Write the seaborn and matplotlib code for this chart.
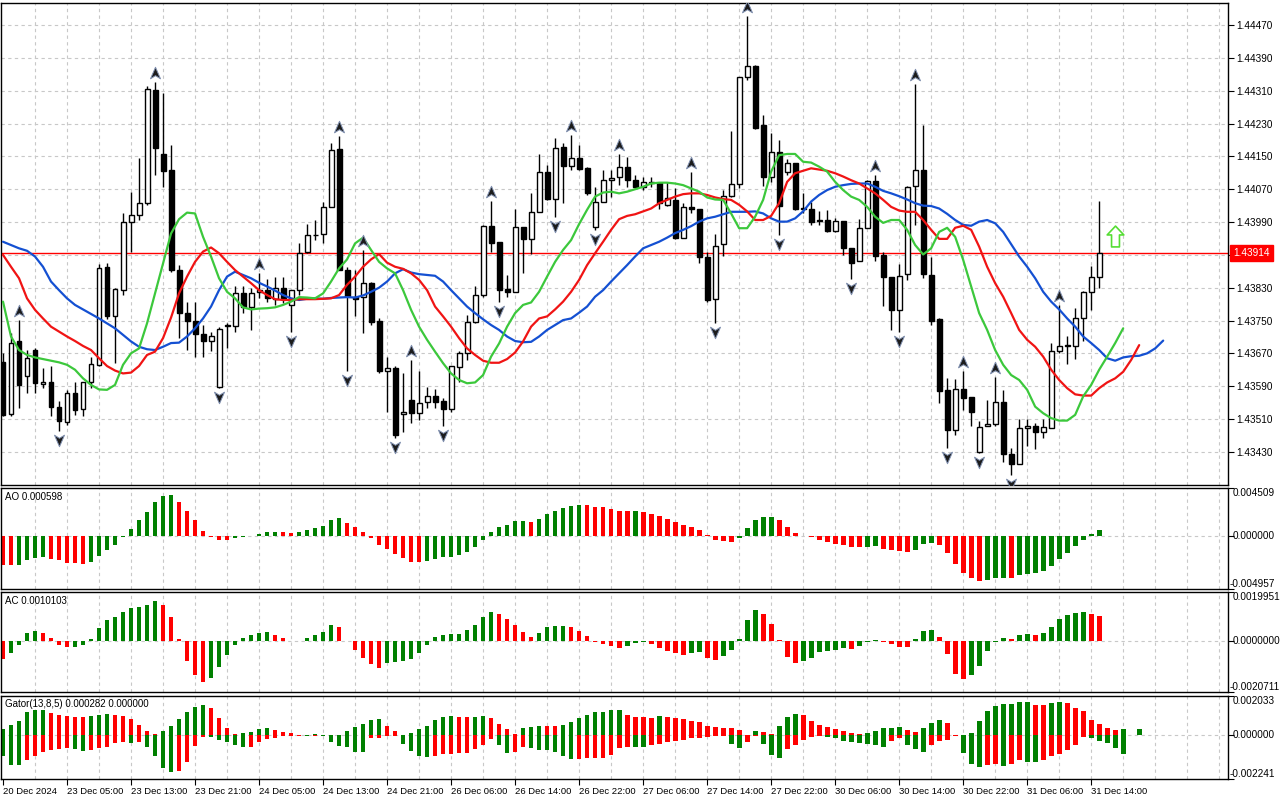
import numpy as np
import pandas as pd
import matplotlib
matplotlib.use("Agg")
import matplotlib.pyplot as plt
from matplotlib.path import Path
from matplotlib import transforms
import seaborn as sns

# H1 candles, 20 Dec 2024 .. 31 Dec 2024 14:00
opens = [1.43650, 1.43522, 1.43699, 1.43614, 1.43679, 1.43596, 1.43600, 1.43540, 1.43502, 1.43573,
         1.43534, 1.43599, 1.43641, 1.43880, 1.43762, 1.43825, 1.43990, 1.44007, 1.44037, 1.44312,
         1.44156, 1.44117, 1.43873, 1.43768, 1.43748, 1.43718, 1.43699, 1.43588, 1.43736, 1.43736,
         1.43817, 1.43784, 1.43819, 1.43825, 1.43802, 1.43830, 1.43788, 1.43825, 1.43916, 1.43959,
         1.43960, 1.44027, 1.44167, 1.43873, 1.43808, 1.43808, 1.43841, 1.43750, 1.43628, 1.43634,
         1.43522, 1.43556, 1.43524, 1.43552, 1.43566, 1.43554, 1.43534, 1.43636, 1.43670, 1.43747,
         1.43811, 1.43980, 1.43941, 1.43827, 1.43820, 1.43977, 1.43948, 1.44015, 1.44111, 1.44045,
         1.44174, 1.44127, 1.44145, 1.44121, 1.43977, 1.44040, 1.44092, 1.44099, 1.44123, 1.44092,
         1.44076, 1.44088, 1.44084, 1.44032, 1.44044, 1.43950, 1.44026, 1.44023, 1.43904, 1.43802,
         1.43936, 1.44054, 1.44082, 1.44344, 1.44370, 1.44226, 1.44101, 1.44161, 1.44113, 1.44135,
         1.44025, 1.44022, 1.43995, 1.43995, 1.43967, 1.43993, 1.43926, 1.43894, 1.43976, 1.44090,
         1.43910, 1.43857, 1.43776, 1.43863, 1.44078, 1.44118, 1.43861, 1.43754, 1.43581, 1.43484,
         1.43582, 1.43563, 1.43429, 1.43492, 1.43497, 1.43552, 1.43424, 1.43400, 1.43488, 1.43494,
         1.43478, 1.43488, 1.43676, 1.43689, 1.43689, 1.43755, 1.43819, 1.43855]
highs = [1.43670, 1.43719, 1.43752, 1.43679, 1.43683, 1.43634, 1.43638, 1.43553, 1.43580, 1.43599,
         1.43601, 1.43660, 1.43887, 1.43890, 1.43829, 1.44011, 1.44063, 1.44147, 1.44322, 1.44331,
         1.44304, 1.44178, 1.43886, 1.43795, 1.43795, 1.43740, 1.43723, 1.43733, 1.43745, 1.43833,
         1.43833, 1.43829, 1.43865, 1.43851, 1.43857, 1.43856, 1.43825, 1.43938, 1.43985, 1.43995,
         1.44040, 1.44182, 1.44200, 1.43881, 1.43873, 1.43922, 1.43843, 1.43755, 1.43662, 1.43638,
         1.43621, 1.43654, 1.43626, 1.43587, 1.43582, 1.43561, 1.43638, 1.43675, 1.43764, 1.43835,
         1.43983, 1.44042, 1.43941, 1.43861, 1.44023, 1.43979, 1.44060, 1.44157, 1.44129, 1.44194,
         1.44182, 1.44202, 1.44178, 1.44125, 1.44076, 1.44117, 1.44117, 1.44156, 1.44149, 1.44105,
         1.44101, 1.44101, 1.44088, 1.44088, 1.44072, 1.44037, 1.44113, 1.44023, 1.43918, 1.43961,
         1.44068, 1.44213, 1.44343, 1.44492, 1.44373, 1.44251, 1.44208, 1.44190, 1.44143, 1.44135,
         1.44062, 1.44040, 1.44017, 1.44019, 1.43999, 1.43993, 1.43926, 1.43997, 1.44092, 1.44105,
         1.43918, 1.43857, 1.43888, 1.44078, 1.44326, 1.44226, 1.43906, 1.43755, 1.43609, 1.43607,
         1.43628, 1.43563, 1.43506, 1.43556, 1.43613, 1.43581, 1.43439, 1.43510, 1.43510, 1.43500,
         1.43510, 1.43695, 1.43788, 1.43713, 1.43780, 1.43822, 1.43883, 1.44041]
lows = [1.43516, 1.43516, 1.43536, 1.43573, 1.43573, 1.43585, 1.43516, 1.43480, 1.43496, 1.43520,
        1.43516, 1.43585, 1.43638, 1.43753, 1.43646, 1.43813, 1.43916, 1.43995, 1.44032, 1.44105,
        1.44076, 1.43869, 1.43707, 1.43679, 1.43662, 1.43661, 1.43675, 1.43585, 1.43683, 1.43721,
        1.43768, 1.43726, 1.43804, 1.43796, 1.43788, 1.43792, 1.43723, 1.43813, 1.43914, 1.43946,
        1.43940, 1.44026, 1.43872, 1.43626, 1.43760, 1.43719, 1.43739, 1.43621, 1.43528, 1.43463,
        1.43479, 1.43500, 1.43508, 1.43536, 1.43536, 1.43492, 1.43528, 1.43601, 1.43654, 1.43743,
        1.43808, 1.43918, 1.43796, 1.43808, 1.43820, 1.43867, 1.43912, 1.44015, 1.44044, 1.44003,
        1.44036, 1.44117, 1.44117, 1.44056, 1.43971, 1.44038, 1.44052, 1.44080, 1.44076, 1.44072,
        1.44068, 1.44076, 1.44023, 1.44028, 1.43948, 1.43950, 1.44011, 1.43891, 1.43796, 1.43743,
        1.43907, 1.44052, 1.44072, 1.44336, 1.44218, 1.44078, 1.44088, 1.43958, 1.44105, 1.44019,
        1.44011, 1.43983, 1.43983, 1.43965, 1.43965, 1.43910, 1.43850, 1.43894, 1.43976, 1.43896,
        1.43785, 1.43727, 1.43721, 1.43849, 1.43983, 1.43853, 1.43738, 1.43548, 1.43439, 1.43471,
        1.43532, 1.43492, 1.43426, 1.43492, 1.43494, 1.43406, 1.43374, 1.43400, 1.43443, 1.43436,
        1.43463, 1.43488, 1.43672, 1.43643, 1.43656, 1.43699, 1.43776, 1.43830]
closes = [1.43520, 1.43696, 1.43593, 1.43658, 1.43597, 1.43601, 1.43538, 1.43504, 1.43573, 1.43532,
          1.43599, 1.43644, 1.43878, 1.43761, 1.43827, 1.43990, 1.44007, 1.44036, 1.44314, 1.44170,
          1.44115, 1.43872, 1.43768, 1.43748, 1.43717, 1.43699, 1.43713, 1.43730, 1.43738, 1.43817,
          1.43784, 1.43817, 1.43825, 1.43804, 1.43830, 1.43804, 1.43825, 1.43914, 1.43958, 1.43958,
          1.44026, 1.44166, 1.43873, 1.43810, 1.43803, 1.43841, 1.43747, 1.43626, 1.43634, 1.43471,
          1.43527, 1.43524, 1.43550, 1.43566, 1.43552, 1.43534, 1.43638, 1.43670, 1.43746, 1.43811,
          1.43980, 1.43940, 1.43824, 1.43820, 1.43977, 1.43948, 1.44015, 1.44111, 1.44046, 1.44170,
          1.44127, 1.44145, 1.44119, 1.44060, 1.44038, 1.44092, 1.44098, 1.44123, 1.44092, 1.44075,
          1.44088, 1.44084, 1.44036, 1.44048, 1.43950, 1.44026, 1.44023, 1.43904, 1.43800, 1.43932,
          1.44054, 1.44082, 1.44343, 1.44371, 1.44220, 1.44101, 1.44161, 1.44030, 1.44135, 1.44022,
          1.44023, 1.43991, 1.43993, 1.43967, 1.43993, 1.43926, 1.43891, 1.43976, 1.44090, 1.43907,
          1.43855, 1.43776, 1.43859, 1.44075, 1.44117, 1.43863, 1.43750, 1.43579, 1.43484, 1.43582,
          1.43560, 1.43526, 1.43490, 1.43497, 1.43552, 1.43424, 1.43400, 1.43488, 1.43494, 1.43478,
          1.43490, 1.43676, 1.43689, 1.43690, 1.43755, 1.43819, 1.43855, 1.43914]

# Alligator lines (already shifted: jaw +8, teeth +5, lips +3)
jaw = [1.43942, 1.43934, 1.43926, 1.43920, 1.43906, 1.43881, 1.43845, 1.43824, 1.43804, 1.43788,
       1.43777, 1.43766, 1.43755, 1.43743, 1.43731, 1.43715, 1.43699, 1.43686, 1.43680, 1.43678,
       1.43686, 1.43695, 1.43696, 1.43711, 1.43731, 1.43755, 1.43784, 1.43824, 1.43857, 1.43869,
       1.43861, 1.43853, 1.43842, 1.43833, 1.43823, 1.43812, 1.43804, 1.43800,
       1.43803, 1.43804, 1.43803, 1.43805, 1.43806, 1.43807, 1.43806, 1.43811, 1.43820, 1.43830,
       1.43845, 1.43865, 1.43875, 1.43867, 1.43863, 1.43861, 1.43859, 1.43845, 1.43824, 1.43804,
       1.43784, 1.43768, 1.43753, 1.43739, 1.43727, 1.43711, 1.43700, 1.43697, 1.43698, 1.43711,
       1.43727, 1.43739, 1.43751, 1.43755, 1.43769, 1.43784,
       1.43808, 1.43824, 1.43845, 1.43865, 1.43885, 1.43906, 1.43926, 1.43934, 1.43942, 1.43952,
       1.43963, 1.43971, 1.43980, 1.43991, 1.43999, 1.44003, 1.44009, 1.44015, 1.44015, 1.44015,
       1.44016, 1.44011, 1.43999, 1.43991, 1.43991, 1.43999, 1.44016, 1.44040, 1.44056, 1.44068,
       1.44076, 1.44080, 1.44083, 1.44084, 1.44084, 1.44076,
       1.44066, 1.44060, 1.44053, 1.44045, 1.44036, 1.44030, 1.44029, 1.44023, 1.44010, 1.43995,
       1.43983, 1.43981, 1.43991, 1.43995, 1.43987, 1.43966, 1.43936, 1.43906, 1.43881, 1.43853,
       1.43820, 1.43796, 1.43777, 1.43755, 1.43735, 1.43711, 1.43695, 1.43678, 1.43658, 1.43652,
       1.43660, 1.43663, 1.43664, 1.43670, 1.43682, 1.43701]
teeth = [1.43910, 1.43881, 1.43853, 1.43804, 1.43776, 1.43755, 1.43735, 1.43723, 1.43711, 1.43700,
         1.43688, 1.43678, 1.43658, 1.43639, 1.43628, 1.43621, 1.43623, 1.43639, 1.43666, 1.43674,
         1.43707, 1.43757, 1.43816, 1.43857, 1.43893, 1.43918, 1.43928, 1.43914, 1.43893, 1.43873,
         1.43857, 1.43841, 1.43824, 1.43812, 1.43802, 1.43800, 1.43800, 1.43802,
         1.43802, 1.43802, 1.43803, 1.43804, 1.43812, 1.43837, 1.43857, 1.43881, 1.43899, 1.43912,
         1.43891, 1.43881, 1.43876, 1.43865, 1.43849, 1.43824, 1.43784, 1.43760, 1.43735, 1.43707,
         1.43682, 1.43666, 1.43652, 1.43647, 1.43647, 1.43656, 1.43672, 1.43699, 1.43735, 1.43755,
         1.43760, 1.43777, 1.43796, 1.43820, 1.43849, 1.43885,
         1.43914, 1.43942, 1.43971, 1.43997, 1.44005, 1.44009, 1.44016, 1.44023, 1.44036, 1.44044,
         1.44052, 1.44058, 1.44060, 1.44060, 1.44056, 1.44050, 1.44046, 1.44044, 1.44032, 1.44016,
         1.43995, 1.43995, 1.44005, 1.44036, 1.44088, 1.44109, 1.44115, 1.44121, 1.44118, 1.44115,
         1.44109, 1.44101, 1.44092, 1.44084, 1.44072, 1.44060,
         1.44044, 1.44027, 1.44018, 1.44015, 1.44015, 1.43995, 1.43971, 1.43949, 1.43949, 1.43976,
         1.43981, 1.43971, 1.43930, 1.43881, 1.43841, 1.43808, 1.43768, 1.43727, 1.43703, 1.43686,
         1.43662, 1.43630, 1.43605, 1.43585, 1.43570, 1.43567, 1.43567, 1.43585, 1.43599, 1.43609,
         1.43625, 1.43654, 1.43690]
lips = [1.43796, 1.43711, 1.43678, 1.43666, 1.43660, 1.43656, 1.43652, 1.43648, 1.43642, 1.43630,
        1.43609, 1.43593, 1.43582, 1.43581, 1.43593, 1.43642, 1.43670, 1.43682, 1.43743, 1.43816,
        1.43889, 1.43962, 1.43997, 1.44013, 1.44011, 1.43954, 1.43906, 1.43853, 1.43820, 1.43804,
        1.43782, 1.43777, 1.43779, 1.43780, 1.43782, 1.43788, 1.43796, 1.43807,
        1.43806, 1.43804, 1.43816, 1.43845, 1.43877, 1.43899, 1.43938, 1.43952, 1.43922, 1.43893,
        1.43877, 1.43865, 1.43824, 1.43776, 1.43735, 1.43703, 1.43674, 1.43646, 1.43621, 1.43605,
        1.43597, 1.43599, 1.43617, 1.43662, 1.43694, 1.43735, 1.43768, 1.43788, 1.43794, 1.43820,
        1.43857, 1.43893, 1.43922, 1.43946, 1.43985, 1.44020,
        1.44052, 1.44062, 1.44064, 1.44060, 1.44064, 1.44070, 1.44076, 1.44084, 1.44086, 1.44086,
        1.44084, 1.44080, 1.44072, 1.44064, 1.44050, 1.44045, 1.44044, 1.44011, 1.43975, 1.43975,
        1.44003, 1.44044, 1.44113, 1.44153, 1.44156, 1.44156, 1.44137, 1.44135, 1.44125, 1.44113,
        1.44088, 1.44068, 1.44052, 1.44044, 1.44027, 1.44003,
        1.43988, 1.43995, 1.43995, 1.43971, 1.43934, 1.43911, 1.43926, 1.43966, 1.43976, 1.43954,
        1.43898, 1.43833, 1.43768, 1.43727, 1.43678, 1.43642, 1.43617, 1.43605, 1.43581, 1.43540,
        1.43524, 1.43512, 1.43506, 1.43506, 1.43520, 1.43565, 1.43593, 1.43630, 1.43662, 1.43695,
        1.43731]

fractal_up = [2, 19, 32, 42, 45, 51, 61, 71, 77, 86, 93, 109, 114, 120, 124, 132]
fractal_down = [7, 27, 36, 43, 49, 55, 62, 69, 74, 89, 97, 106, 112, 118, 122, 126]

ao = [-0.00268, -0.00271, -0.00268, -0.00221, -0.00202, -0.00200, -0.00214, -0.00227, -0.00249, -0.00250,
      -0.00258, -0.00239, -0.00183, -0.00126, -0.00079, -0.00006, 0.00069, 0.00148, 0.00224, 0.00318,
      0.00372, 0.00381, 0.00324, 0.00239, 0.00148, 0.00050, -0.00006, -0.00032, -0.00033, -0.00022,
      -0.00013, -0.00003, 0.00022, 0.00041, 0.00042, 0.00038, 0.00032, 0.00035, 0.00054, 0.00072,
      0.00091, 0.00148, 0.00167, 0.00120, 0.00082, 0.00035, -0.00022, -0.00088, -0.00120, -0.00164,
      -0.00202, -0.00243, -0.00244, -0.00230, -0.00211, -0.00198, -0.00192, -0.00176, -0.00148, -0.00101,
      -0.00032, 0.00041, 0.00082, 0.00107, 0.00139, 0.00140, 0.00129, 0.00164, 0.00211, 0.00239,
      0.00265, 0.00284, 0.00293, 0.00291, 0.00274, 0.00271, 0.00255, 0.00236, 0.00235, 0.00236,
      0.00224, 0.00211, 0.00189, 0.00164, 0.00135, 0.00101, 0.00085, 0.00057, 0.00006, -0.00038,
      -0.00047, -0.00054, -0.00019, 0.00076, 0.00151, 0.00180, 0.00181, 0.00151, 0.00085, 0.00025,
      0.00003, -0.00009, -0.00035, -0.00057, -0.00072, -0.00088, -0.00104, -0.00106, -0.00101, -0.00095,
      -0.00117, -0.00129, -0.00135, -0.00151, -0.00126, -0.00072, -0.00066, -0.00085, -0.00158, -0.00261,
      -0.00350, -0.00397, -0.00422, -0.00413, -0.00394, -0.00392, -0.00394, -0.00365, -0.00359, -0.00350,
      -0.00331, -0.00280, -0.00211, -0.00158, -0.00091, -0.00032, 0.00019, 0.00060]

ac = [-0.00074, -0.00047, -0.00015, 0.00033, 0.00040, 0.00033, 0.00012, -0.00015, -0.00024, -0.00023,
      -0.00015, 0.00008, 0.00052, 0.00084, 0.00096, 0.00120, 0.00136, 0.00140, 0.00148, 0.00164,
      0.00148, 0.00096, 0.00008, -0.00082, -0.00138, -0.00168, -0.00150, -0.00106, -0.00055, -0.00015,
      0.00012, 0.00024, 0.00033, 0.00036, 0.00024, 0.00012, 0.00001, -0.00001, 0.00012, 0.00024,
      0.00036, 0.00064, 0.00056, -0.00001, -0.00036, -0.00068, -0.00092, -0.00108, -0.00088, -0.00086,
      -0.00080, -0.00072, -0.00047, -0.00015, 0.00016, 0.00024, 0.00027, 0.00028, 0.00044, 0.00064,
      0.00096, 0.00120, 0.00112, 0.00088, 0.00064, 0.00036, 0.00016, 0.00033, 0.00056, 0.00060,
      0.00063, 0.00059, 0.00039, 0.00019, -0.00003, -0.00011, -0.00019, -0.00027, -0.00019, -0.00008,
      -0.00003, -0.00011, -0.00027, -0.00039, -0.00047, -0.00055, -0.00047, -0.00045, -0.00067, -0.00076,
      -0.00060, -0.00035, 0.00007, 0.00086, 0.00126, 0.00110, 0.00068, 0.00003, -0.00064, -0.00088,
      -0.00080, -0.00068, -0.00043, -0.00039, -0.00036, -0.00029, -0.00031, -0.00019, -0.00003, 0.00003,
      -0.00003, -0.00011, -0.00023, -0.00024, 0.00007, 0.00039, 0.00044, 0.00015, -0.00051, -0.00132,
      -0.00156, -0.00140, -0.00100, -0.00041, -0.00003, 0.00011, 0.00009, 0.00023, 0.00027, 0.00023,
      0.00031, 0.00059, 0.00090, 0.00106, 0.00114, 0.00118, 0.00110, 0.00101]

gator_up = [0.00033, 0.00053, 0.00074, 0.00120, 0.00131, 0.00132, 0.00115, 0.00105, 0.00100, 0.00095,
            0.00093, 0.00100, 0.00105, 0.00110, 0.00105, 0.00100, 0.00084, 0.00053, 0.00022, 0.00007,
            0.00022, 0.00048, 0.00084, 0.00120, 0.00146, 0.00157, 0.00141, 0.00089, 0.00038, 0.00007,
            0.00012, 0.00017, 0.00033, 0.00038, 0.00028, 0.00017, 0.00012, 0.00003, 0.00005, 0.00007,
            0.00005, 0.00002, 0.00001, 0.00022, 0.00043, 0.00058, 0.00079, 0.00084, 0.00048, 0.00022,
            0.00003, 0.00014, 0.00034, 0.00048, 0.00079, 0.00095, 0.00100, 0.00095, 0.00093, 0.00095,
            0.00100, 0.00089, 0.00058, 0.00033, 0.00010, 0.00038, 0.00043, 0.00050, 0.00049, 0.00048,
            0.00053, 0.00069, 0.00089, 0.00105, 0.00120, 0.00122, 0.00131, 0.00132, 0.00105, 0.00095,
            0.00093, 0.00091, 0.00100, 0.00093, 0.00088, 0.00083, 0.00077, 0.00069, 0.00048, 0.00046,
            0.00038, 0.00036, 0.00028, 0.00005, 0.00022, 0.00019, 0.00009, 0.00048, 0.00095, 0.00110,
            0.00105, 0.00077, 0.00052, 0.00043, 0.00033, 0.00022, 0.00015, 0.00009, 0.00012, 0.00024,
            0.00040, 0.00041, 0.00046, 0.00029, 0.00019, 0.00040, 0.00064, 0.00079, 0.00064, 0.00003,
            0.00002, 0.00015, 0.00072, 0.00127, 0.00153, 0.00160, 0.00163, 0.00172, 0.00173, 0.00158,
            0.00155, 0.00167, 0.00172, 0.00167, 0.00143, 0.00124, 0.00081, 0.00060, 0.00040, 0.00029,
            0.00031, 0.00002, 0.00033]
gator_down = [-0.00108, -0.00151, -0.00153, -0.00126, -0.00105, -0.00084, -0.00074, -0.00072, -0.00064, -0.00069,
              -0.00079, -0.00077, -0.00064, -0.00058, -0.00038, -0.00034, -0.00038, -0.00034, -0.00058, -0.00105,
              -0.00167, -0.00187, -0.00182, -0.00136, -0.00053, -0.00007, -0.00010, -0.00022, -0.00033, -0.00048,
              -0.00058, -0.00057, -0.00033, -0.00017, -0.00012, -0.00005, -0.00003, -0.00002, -0.00003, -0.00002,
              -0.00003, -0.00033, -0.00053, -0.00058, -0.00084, -0.00086, -0.00015, -0.00012, -0.00005, -0.00003,
              -0.00043, -0.00079, -0.00105, -0.00110, -0.00105, -0.00095, -0.00093, -0.00089, -0.00088, -0.00069,
              -0.00048, -0.00017, -0.00048, -0.00089, -0.00084, -0.00058, -0.00064, -0.00074, -0.00076, -0.00084,
              -0.00108, -0.00120, -0.00119, -0.00118, -0.00117, -0.00115, -0.00101, -0.00065, -0.00057, -0.00058,
              -0.00059, -0.00048, -0.00043, -0.00034, -0.00026, -0.00021, -0.00015, -0.00012, -0.00007, -0.00005,
              -0.00003, -0.00043, -0.00062, -0.00036, -0.00002, -0.00043, -0.00101, -0.00115, -0.00071, -0.00048,
              -0.00021, -0.00009, -0.00005, -0.00006, -0.00015, -0.00028, -0.00034, -0.00040, -0.00043, -0.00050,
              -0.00057, -0.00028, -0.00015, -0.00048, -0.00071, -0.00084, -0.00048, -0.00026, -0.00021, -0.00001,
              -0.00089, -0.00146, -0.00162, -0.00151, -0.00146, -0.00155, -0.00146, -0.00126, -0.00134, -0.00135,
              -0.00126, -0.00108, -0.00096, -0.00077, -0.00050, -0.00007, -0.00015, -0.00028, -0.00040, -0.00062,
              -0.00095]

time_labels = ['20 Dec 2024', '23 Dec 05:00', '23 Dec 13:00', '23 Dec 21:00', '24 Dec 05:00',
               '24 Dec 13:00', '24 Dec 21:00', '26 Dec 06:00', '26 Dec 14:00', '26 Dec 22:00',
               '27 Dec 06:00', '27 Dec 14:00', '27 Dec 22:00', '30 Dec 06:00', '30 Dec 14:00',
               '30 Dec 22:00', '31 Dec 06:00', '31 Dec 14:00']
price_ticks = [1.43430, 1.43510, 1.43590, 1.43670, 1.43750, 1.43830, 1.43910,
               1.43990, 1.44070, 1.44150, 1.44230, 1.44310, 1.44390, 1.44470]
bid = 1.43914
signal_bar, signal_price = 139, 1.43955

sns.set_style("white")
plt.rcParams['font.family'] = ['Liberation Sans', 'DejaVu Sans']
plt.rcParams['font.size'] = 6.8

GREEN = '#008000'
RED = '#ff0000'
GRID = '#c8c8c8'
XMIN, XMAX = -0.25, 153.1
YFONT = 7.2

fig = plt.figure(figsize=(12.8, 8), dpi=100)
W = 1227 / 1280
ax = fig.add_axes([1 / 1280, 1 - 485 / 800, W, 482 / 800])
ax_ao = fig.add_axes([1 / 1280, 1 - 589 / 800, W, 101 / 800])
ax_ac = fig.add_axes([1 / 1280, 1 - 692 / 800, W, 100 / 800])
ax_gt = fig.add_axes([1 / 1280, 1 - 779 / 800, W, 83 / 800])
panels = [ax, ax_ao, ax_ac, ax_gt]

for a in panels:
    for x in range(4, 153, 4):
        a.axvline(x, color=GRID, ls=(0, (3, 3)), lw=0.8, zorder=0)
    for s in a.spines.values():
        s.set_color('black')
        s.set_linewidth(1)

# ---- main chart: candles
o, h, l, c = map(np.array, (opens, highs, lows, closes))
idx = np.arange(len(o))
bull = c >= o
ax.vlines(idx, l, h, color='black', lw=1, zorder=3)
lo = np.minimum(o, c)
ht = np.abs(c - o)
ax.bar(idx[bull], ht[bull], bottom=lo[bull], width=0.62, color='white',
       edgecolor='black', lw=1, zorder=4)
ax.bar(idx[~bull], ht[~bull], bottom=lo[~bull], width=0.62, color='black',
       edgecolor='black', lw=1, zorder=4)

for vals, col in [(jaw, '#1450d2'), (teeth, '#f01414'), (lips, '#3cc83c')]:
    sns.lineplot(x=np.arange(len(vals)), y=vals, color=col, linewidth=1.6,
                 estimator=None, ax=ax, zorder=5)

for p in price_ticks:
    ax.axhline(p, color=GRID, ls=(0, (3, 3)), lw=0.8, zorder=0)
ax.axhline(bid, color=RED, lw=1, zorder=2)

# fractal arrowheads
up_head = Path([(0, 1), (0.8, -0.85), (0, -0.35), (-0.8, -0.85), (0, 1)],
               [Path.MOVETO, Path.LINETO, Path.LINETO, Path.LINETO, Path.CLOSEPOLY])
dn_head = Path([(0, -1), (0.8, 0.85), (0, 0.35), (-0.8, 0.85), (0, -1)],
               [Path.MOVETO, Path.LINETO, Path.LINETO, Path.LINETO, Path.CLOSEPOLY])
up_tr = transforms.offset_copy(ax.transData, fig=fig, y=9, units='dots')
dn_tr = transforms.offset_copy(ax.transData, fig=fig, y=-9, units='dots')
ax.plot(fractal_up, h[fractal_up], ls='none', marker=up_head, ms=9,
        mfc='#1c1c1c', mec='#8090b0', mew=0.7, transform=up_tr, zorder=6)
ax.plot(fractal_down, l[fractal_down], ls='none', marker=dn_head, ms=9,
        mfc='#1c1c1c', mec='#8090b0', mew=0.7, transform=dn_tr, zorder=6)

# buy signal arrow
arrow = Path([(0, 1), (0.8, 0.15), (0.38, 0.15), (0.38, -1), (-0.38, -1),
              (-0.38, 0.15), (-0.8, 0.15), (0, 1)],
             [Path.MOVETO] + [Path.LINETO] * 6 + [Path.CLOSEPOLY])
ax.plot([signal_bar], [signal_price], ls='none', marker=arrow, ms=15,
        mfc='white', mec='#55dd33', mew=1.2, zorder=6)

ax.set_xlim(XMIN, XMAX)
ax.set_ylim(1.43349, 1.44524)
ax.set_yticks(price_ticks)
ax.set_yticklabels(['' if abs(p - 1.43910) < 1e-7 else f'{p:.5f}' for p in price_ticks],
                   fontsize=YFONT)
ax.text(1233 / 1280, bid, f'{bid:.5f}', color='white', va='center', ha='left', fontsize=YFONT,
        transform=transforms.blended_transform_factory(fig.transFigure, ax.transData),
        bbox=dict(boxstyle='square,pad=0.3', fc=RED, ec=RED), clip_on=False, zorder=10)

# ---- oscillators
def rising(v, first):
    v = np.asarray(v)
    return np.r_[first, np.diff(v) > 0]

def histogram(a, values, up_flags):
    df = pd.DataFrame({'bar': np.arange(len(values)), 'value': values,
                       'dir': np.where(up_flags, 'up', 'down')})
    sns.barplot(data=df, x='bar', y='value', hue='dir', palette={'up': GREEN, 'down': RED},
                native_scale=True, dodge=False, width=0.6, errorbar=None, saturation=1,
                legend=False, linewidth=0, orient='x', ax=a)

histogram(ax_ao, ao, rising(ao, False))
histogram(ax_ac, ac, rising(ac, False))
histogram(ax_gt, gator_up, rising(gator_up, True))
histogram(ax_gt, gator_down, rising(np.abs(gator_down), True))

sub = [(ax_ao, (-0.004957, 0.004509), ['-0.004957', '0.000000', '0.004509'], 'AO 0.000598'),
       (ax_ac, (-0.0020711, 0.0019951), ['-0.0020711', '0.0000000', '0.0019951'], 'AC 0.0010103'),
       (ax_gt, (-0.002241, 0.002033), ['-0.002241', '0.000000', '0.002033'],
        'Gator(13,8,5) 0.000282 0.000000')]
for a, (ymin, ymax), labels, title in sub:
    a.axhline(0, color=GRID, ls=(0, (3, 3)), lw=0.8, zorder=0)
    a.set_ylim(ymin, ymax)
    a.set_yticks([ymin, 0, ymax])
    a.set_yticklabels(['', '', ''])
    lab_tr = transforms.blended_transform_factory(fig.transFigure, a.transData)
    for val, txt, va in zip((ymin, 0, ymax), labels, ('bottom', 'center', 'top')):
        x0 = 1230 if txt.startswith('-') else 1233
        a.text(x0 / 1280, val, txt, transform=lab_tr, va=va, ha='left',
               fontsize=YFONT, color='black', clip_on=False)
    a.text(0.003, 0.965, title, transform=a.transAxes, va='top', ha='left', color='black',
           fontsize=7)

for a in panels:
    a.set_xlim(XMIN, XMAX)
    a.set_xlabel('')
    a.set_ylabel('')
    a.yaxis.tick_right()
    a.tick_params(axis='y', which='both', direction='out', length=4, width=0.8, pad=2,
                  right=True, left=False, labelright=True, labelleft=False, colors='black')
    if a is not ax_gt:
        a.set_xticks([])

ax_gt.set_xticks(np.arange(len(time_labels)) * 8)
ax_gt.set_xticklabels(time_labels, fontsize=6.8)
for t in ax_gt.get_xticklabels():
    t.set_ha('left')
ax_gt.tick_params(axis='x', direction='out', length=4, width=0.8, pad=2, bottom=True, colors='black')

fig.savefig('out.png', dpi=100)
